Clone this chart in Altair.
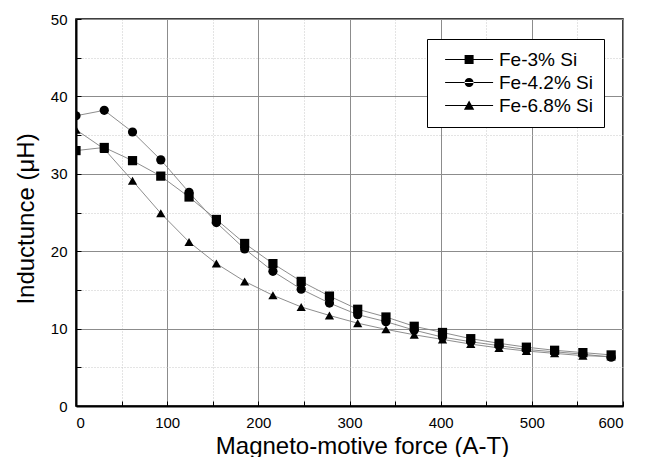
import altair as alt
import pandas as pd

# Magneto-motive force (A-T) at each measurement
mmf = [0, 31, 62, 93, 124, 154, 185, 216, 247, 278, 309, 340, 371, 402, 433, 464, 494, 525, 556, 587]

# Inductance (uH) for each alloy
fe_3 = [33.0, 33.4, 31.7, 29.7, 27.0, 24.1, 21.0, 18.4, 16.1, 14.2, 12.5, 11.5, 10.3, 9.5, 8.7, 8.1, 7.6, 7.2, 6.9, 6.6]
fe_42 = [37.5, 38.2, 35.4, 31.8, 27.6, 23.7, 20.3, 17.4, 15.1, 13.3, 11.8, 10.9, 9.8, 8.9, 8.3, 7.8, 7.3, 7.0, 6.7, 6.3]
fe_68 = [35.7, 33.2, 29.1, 24.9, 21.2, 18.4, 16.1, 14.3, 12.8, 11.7, 10.7, 9.9, 9.2, 8.6, 8.0, 7.5, 7.1, 6.8, 6.5, 6.4]

alloys = ["Fe-3% Si", "Fe-4.2% Si", "Fe-6.8% Si"]

x_major = [0, 100, 200, 300, 400, 500, 600]
y_major = [0, 10, 20, 30, 40, 50]
x_minor = [50, 150, 250, 350, 450, 550]
y_minor = [5, 15, 25, 35, 45]
x_ticks = sorted(x_major + x_minor)
y_ticks = sorted(y_major + y_minor)

rows = []
for name, vals in zip(alloys, [fe_3, fe_42, fe_68]):
    for x, v in zip(mmf, vals):
        rows.append({"mmf": x, "L": v, "alloy": name})
df = pd.DataFrame(rows)

FONT = "Liberation Sans"
x_scale = alt.Scale(domain=[0, 600], nice=False, zero=False)
y_scale = alt.Scale(domain=[0, 50], nice=False)

# marker shapes for the plot, and line-through-marker glyphs for the legend
# (glyphs are drawn a little right of their anchor so the line sits inside the box)
marker_shapes = ["square", "circle", "triangle-up"]
legend_line = "M-0.53,-0.09H10.13V0.09H-0.53Z"
legend_glyphs = [
    legend_line + "M3.8,-1H5.8V1H3.8Z",
    legend_line + "M3.8,0A1,1 0 1,0 5.8,0A1,1 0 1,0 3.8,0Z",
    legend_line + "M4.8,-1.1L5.95,0.95L3.65,0.95Z",
]

base = alt.Chart(df)

# connecting lines with the main axes and major grid
lines = base.mark_line(color="#808080", strokeWidth=0.9, clip=True).encode(
    x=alt.X(
        "mmf:Q",
        scale=x_scale,
        axis=alt.Axis(
            orient="bottom", values=x_major, grid=True, gridColor="#8c8c8c", gridWidth=1,
            ticks=False, domain=True, domainColor="#000000", domainWidth=2,
            labelPadding=9, labelFont=FONT, labelFontSize=15, labelColor="#000000",
            title="Magneto-motive force (A-T)", titleFont=FONT, titleFontSize=24,
            titleFontWeight="normal", titleColor="#000000",
            titleX=286, titleY=47, titleBaseline="alphabetic", titleAlign="center",
        ),
    ),
    y=alt.Y(
        "L:Q",
        scale=y_scale,
        axis=alt.Axis(
            orient="left", values=y_major, grid=True, gridColor="#8c8c8c", gridWidth=1,
            ticks=False, domain=True, domainColor="#000000", domainWidth=2,
            labelPadding=9, labelFont=FONT, labelFontSize=15, labelColor="#000000",
            title="Inductunce (μH)", titleFont=FONT, titleFontSize=24,
            titleFontWeight="normal", titleColor="#000000", titleAngle=270,
            titleX=-43, titleY=199.5, titleBaseline="alphabetic", titleAlign="center",
        ),
    ),
    detail="alloy:N",
)

# filled markers (clipped at the frame) with the dotted minor grid
points = base.mark_point(filled=True, color="#000000", size=85, opacity=1, clip=True).encode(
    x=alt.X(
        "mmf:Q", scale=x_scale,
        axis=alt.Axis(orient="bottom", values=x_minor, grid=True, gridColor="#c8c8c8",
                      gridDash=[1, 2], gridWidth=1, ticks=False, labels=False,
                      domain=False, title=None),
    ),
    y=alt.Y(
        "L:Q", scale=y_scale,
        axis=alt.Axis(orient="left", values=y_minor, grid=True, gridColor="#c8c8c8",
                      gridDash=[1, 2], gridWidth=1, ticks=False, labels=False,
                      domain=False, title=None),
    ),
    shape=alt.Shape("alloy:N", scale=alt.Scale(domain=alloys, range=marker_shapes), legend=None),
)

# invisible layer carrying the legend and the inward tick marks
legend_layer = base.mark_point(filled=True, color="#000000", opacity=0).encode(
    x=alt.X(
        "mmf:Q", scale=x_scale,
        axis=alt.Axis(orient="bottom", values=x_ticks, offset=-5, tickSize=5, ticks=True,
                      tickColor="#000000", tickWidth=1, labels=False, domain=False,
                      grid=False, title=None),
    ),
    y=alt.Y(
        "L:Q", scale=y_scale,
        axis=alt.Axis(orient="left", values=y_ticks, offset=-5, tickSize=5, ticks=True,
                      tickColor="#000000", tickWidth=1, labels=False, domain=False,
                      grid=False, title=None),
    ),
    shape=alt.Shape(
        "alloy:N",
        scale=alt.Scale(domain=alloys, range=legend_glyphs),
        legend=alt.Legend(
            title=None, orient="none", legendX=351, legendY=20,
            padding=11, rowPadding=3, symbolSize=81, symbolOpacity=1,
            symbolFillColor="#000000", symbolStrokeWidth=0,
            symbolOffset=0, labelOffset=42,
            labelFont=FONT, labelFontSize=19, labelColor="#000000",
            strokeColor="#000000", fillColor="#ffffff",
        ),
    ),
)

chart = (
    alt.layer(lines, points, legend_layer)
    .resolve_scale(shape="independent")
    .resolve_axis(x="independent", y="independent")
    .properties(
        width=547, height=387,
        autosize=alt.AutoSizeParams(type="none"),
        padding={"left": 76, "top": 19, "right": 27, "bottom": 51},
        background="#ffffff",
    )
    .configure_view(stroke="#000000", strokeWidth=1.5)
)

chart.save("out.html", embed_options={"renderer": "svg", "actions": False})
